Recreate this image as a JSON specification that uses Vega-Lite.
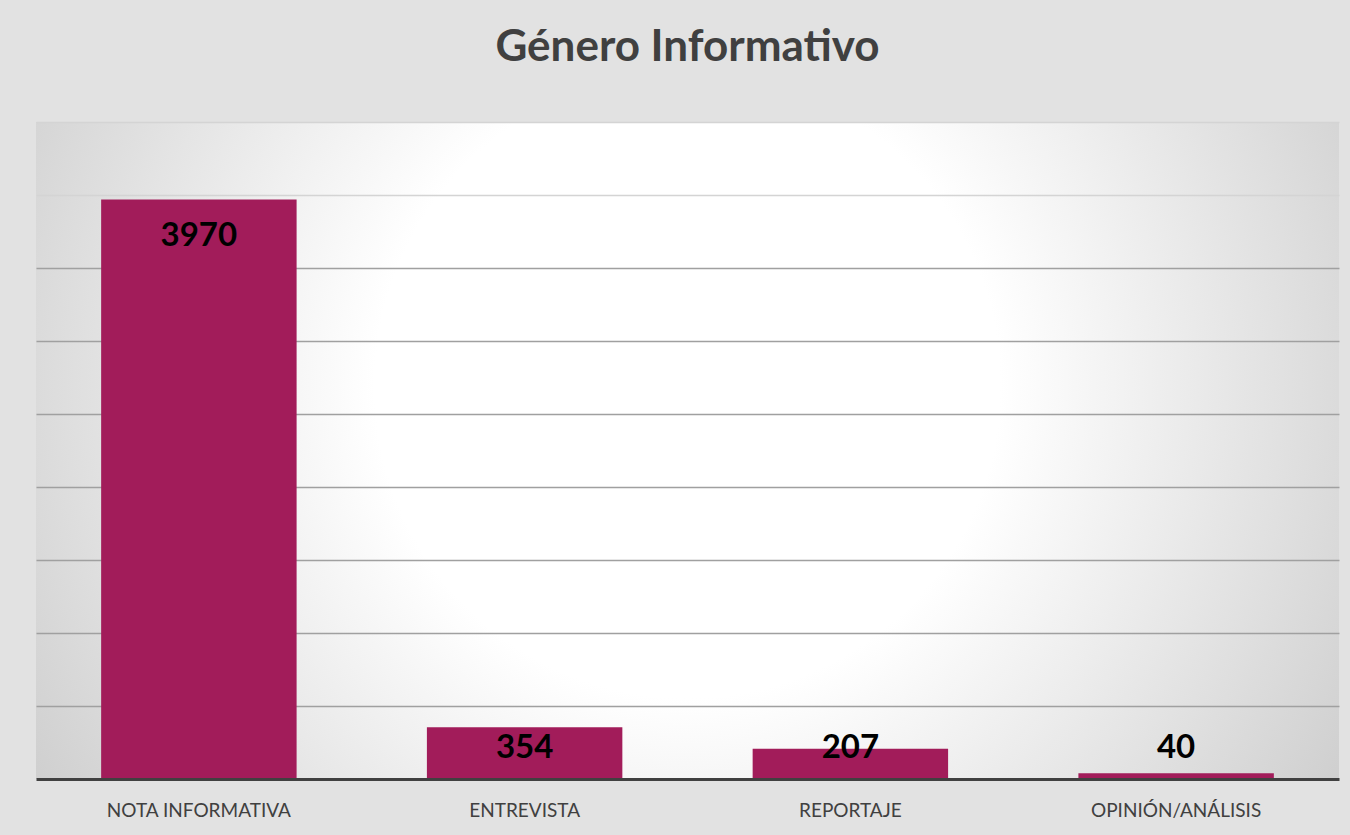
{
  "$schema": "https://vega.github.io/schema/vega-lite/v6.json",
  "width": 1303,
  "height": 657,
  "autosize": {"type": "none"},
  "padding": {"left": 36, "top": 122, "right": 11, "bottom": 56},
  "background": "#e2e2e2",
  "title": {
    "text": "Género Informativo",
    "font": "Lato",
    "fontSize": 44,
    "fontWeight": "bold",
    "color": "#404040",
    "anchor": "middle",
    "offset": 52
  },
  "config": {
    "view": {
      "stroke": null,
      "fill": {
        "gradient": "radial",
        "x1": 0.5, "y1": 0.45, "r1": 0,
        "x2": 0.5, "y2": 0.45, "r2": 0.6,
        "stops": [
          {"offset": 0, "color": "#ffffff"},
          {"offset": 0.4, "color": "#ffffff"},
          {"offset": 1, "color": "#cdcdcd"}
        ]
      }
    }
  },
  "data": {
    "values": [
      {"genero": "NOTA INFORMATIVA", "total": 3970},
      {"genero": "ENTREVISTA", "total": 354},
      {"genero": "REPORTAJE", "total": 207},
      {"genero": "OPINIÓN/ANÁLISIS", "total": 40}
    ]
  },
  "encoding": {
    "x": {
      "field": "genero",
      "type": "nominal",
      "sort": null,
      "scale": {"paddingInner": 0.4, "paddingOuter": 0.2},
      "axis": {
        "title": null,
        "labelAngle": 0,
        "labelFont": "Lato",
        "labelFontSize": 19,
        "labelLimit": 0,
        "labelColor": "#404040",
        "labelPadding": 22,
        "ticks": false,
        "domainColor": "#404040",
        "domainWidth": 3,
        "zindex": 1
      }
    }
  },
  "layer": [
    {
      "mark": {"type": "bar", "color": "#a21c5a"},
      "encoding": {
        "y": {
          "field": "total",
          "type": "quantitative",
          "scale": {"domain": [0, 4500]},
          "axis": {
            "title": null,
            "labels": false,
            "ticks": false,
            "domain": false,
            "values": [500, 1000, 1500, 2000, 2500, 3000, 3500, 4000, 4500],
            "grid": true,
            "gridColor": {"condition": {"test": "datum.value >= 4000", "value": "#d4d4d4"}, "value": "#a0a0a0"},
            "gridWidth": 1.5
          }
        }
      }
    },
    {
      "transform": [{"calculate": "max(datum.total - 250, 215)", "as": "pos"}],
      "mark": {"type": "text", "font": "Lato", "fontSize": 33, "fontWeight": "bold", "color": "#000000", "baseline": "middle"},
      "encoding": {
        "y": {"field": "pos", "type": "quantitative"},
        "text": {"field": "total", "type": "quantitative"}
      }
    }
  ]
}
